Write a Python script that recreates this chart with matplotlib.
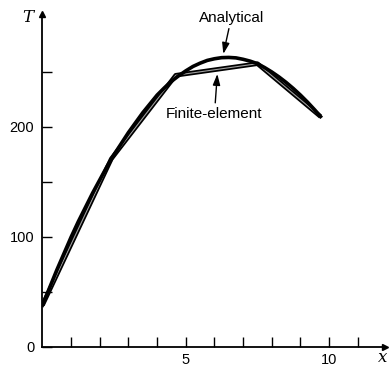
import numpy as np
import matplotlib.pyplot as plt

# values (distance x, temperature T)
x_analytical = [0, 0.25, 0.5, 0.75, 1.0, 1.25, 1.5, 1.75, 2.0, 2.25, 2.5, 2.75, 3.0, 3.25,
                3.5, 3.75, 4.0, 4.25, 4.5, 4.75, 5.0, 5.25, 5.5, 5.75, 6.0, 6.25, 6.5,
                6.75, 7.0, 7.25, 7.5, 7.75, 8.0, 8.25, 8.5, 8.75, 9.0, 9.25, 9.5, 9.7]
T_analytical = [38, 54, 70, 85, 100, 114, 127, 140, 152, 164, 175, 185, 195, 204,
                213, 221, 229, 235.5, 241.5, 246.5, 251, 255, 258, 260.5, 262, 263, 263.2,
                262.8, 261.5, 259.8, 257.5, 254, 250, 245.5, 240.5, 235, 229, 222.5, 215.5, 209.5]

x_fe = [0, 2.4, 4.65, 7.5, 9.7]
T_fe = [38, 171, 247, 257.5, 209.5]

x_ticks = list(range(1, 12))
x_ticklabels = ['' if t not in (5, 10) else str(t) for t in x_ticks]
y_ticks = [0, 50, 100, 150, 200, 250]
y_ticklabels = ['0', '', '100', '', '200', '']

plt.rcParams['font.family'] = ['Liberation Sans', 'DejaVu Sans']

fig = plt.figure(figsize=(3.92, 3.67), dpi=100)
ax = fig.add_axes([0.1084, 0.0545, 0.8737, 0.9074])

# finite element: hollow double line
ax.plot(x_fe, T_fe, color='black', lw=3.3, solid_capstyle='butt', zorder=3)
ax.plot(x_fe, T_fe, color='#a0a0a0', lw=0.8, zorder=4)
# analytical: solid thick line
ax.plot(x_analytical, T_analytical, color='black', lw=2.6, zorder=5)

ax.set_xlim(0, 11.95)
ax.set_ylim(0, 302.7)

for s in ['top', 'right']:
    ax.spines[s].set_visible(False)
for s in ['left', 'bottom']:
    ax.spines[s].set_linewidth(1.3)

ax.set_xticks(x_ticks)
ax.set_xticklabels(x_ticklabels)
ax.set_yticks(y_ticks)
ax.set_yticklabels(y_ticklabels)
ax.tick_params(direction='in', length=7.5, width=1.0, labelsize=10.5)
ax.tick_params(axis='y', pad=6)
ax.tick_params(axis='x', pad=4)

# axis arrows
ax.plot(1, 0, '>', color='black', ms=5, transform=ax.transAxes, clip_on=False)
ax.plot(0, 1, '^', color='black', ms=5, transform=ax.transAxes, clip_on=False)
fig.text(383 / 392, 1 - 357 / 367, 'x', fontsize=12, style='italic', family='DejaVu Serif', ha='center', va='center')
fig.text(28 / 392, 1 - 18 / 367, 'T', fontsize=12, style='italic', family='DejaVu Serif', ha='center', va='center')

arrow = dict(arrowstyle='-|>,head_length=0.6,head_width=0.2', color='black', lw=1.0, shrinkA=1, shrinkB=0)
ax.annotate('Analytical', xy=(6.31, 266.4), xytext=(6.59, 299.5), fontsize=11,
            ha='center', va='center', arrowprops=arrow)
ax.annotate('Finite-element', xy=(6.10, 248.2), xytext=(6.0, 211.8), fontsize=11,
            ha='center', va='center', arrowprops=arrow)

plt.savefig('out.png', dpi=100)
